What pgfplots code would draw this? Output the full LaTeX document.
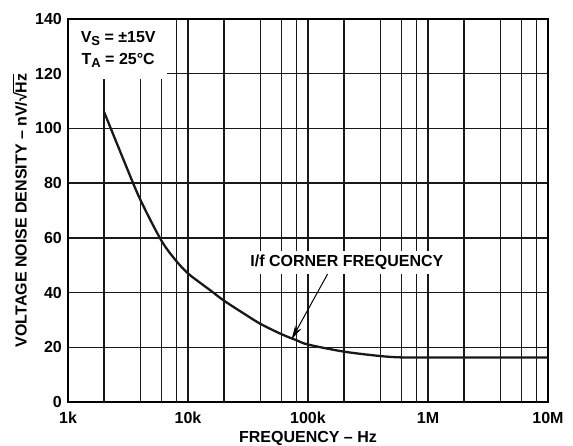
\documentclass[border=0pt]{standalone}
\usepackage{pgfplots}
\pgfplotsset{compat=1.18}
\usetikzlibrary{arrows.meta}
\usepackage{fontspec}
\setmainfont{Liberation Sans}

\newcommand{\lab}{\fontsize{16}{22}\selectfont\bfseries}
\newcommand{\sub}[1]{\raisebox{-3.5pt}{\fontsize{13}{13}\selectfont\bfseries #1}}
\newcommand{\rootHz}{√\kern-0.5pt\vbox{\hrule height 1.2pt\kern1.2pt\hbox{Hz}}}

\begin{document}
\begin{tikzpicture}
    \begin{axis}[
        scale only axis,
        width=480pt,height=383pt,
        xmode=log,
        xmin=1000,xmax=10000000,
        ymin=0,ymax=140,
        xtick={1000,10000,100000,1000000,10000000},
        xticklabels={1k,10k,100k,1M,10M},
        minor xtick={2000,4000,6000,8000,20000,40000,60000,80000,
            200000,400000,600000,800000,2000000,4000000,6000000,8000000},
        ytick={0,20,...,140},
        major tick length=0pt,minor tick length=0pt,
        xmajorgrids=true,xminorgrids=true,ymajorgrids=true,
        major grid style={black!90,line width=1.5pt},
        minor grid style={black!90,line width=1.5pt},
        axis line style={black,line width=1.8pt},
        tick label style={font=\lab},
        /pgf/number format/assume math mode=true,
        xticklabel style={anchor=center,yshift=-16pt},
        yticklabel style={anchor=east,inner sep=0pt,xshift=-6pt},
        every axis y label/.style={at={(axis description cs:-0.1,0.5)},rotate=90,anchor=center,font=\lab},
        every axis x label/.style={at={(axis description cs:0.5,-0.094)},anchor=center,font=\lab},
        ylabel={VOLTAGE NOISE DENSITY -- nV/\rootHz},
        xlabel={FREQUENCY -- Hz},
    ]
        \addplot[black!90,line width=2.3pt,smooth,tension=0.5] coordinates {
            (2000,106)
            (3000,87)
            (4000,74)
            (6000,59)
            (8000,51.5)
            (10000,47)
            (12600,43.6)
            (15700,40.5)
            (20000,37)
            (30000,32)
            (40000,28.6)
            (60000,24.8)
            (80000,22.6)
            (100000,21)
            (200000,18.4)
            (400000,16.8)
            (600000,16.3)
            (1000000,16.3)
            (10000000,16.3)
        };
        \node[fill=white,anchor=north west,minimum width=98pt,minimum height=59pt,
            inner sep=0pt,align=center,font=\lab]
            at ([xshift=1pt,yshift=-1pt]axis cs:1000,140)
            {V\sub{S} = ±15V\\T\sub{A} = 25°C};
        \draw[line width=1pt,-{Stealth[length=14pt,width=7pt]}]
            (axis cs:147000,47.1) -- (axis cs:73000,22.9);
        \node[fill=white,inner sep=4pt,font=\lab] at (axis cs:211000,51)
            {I/f CORNER FREQUENCY};
    \end{axis}
    \pgfresetboundingbox
    \path ([xshift=-68pt,yshift=-44pt]current axis.south west)
        rectangle ([xshift=25pt,yshift=19pt]current axis.north east);
\end{tikzpicture}
\end{document}
